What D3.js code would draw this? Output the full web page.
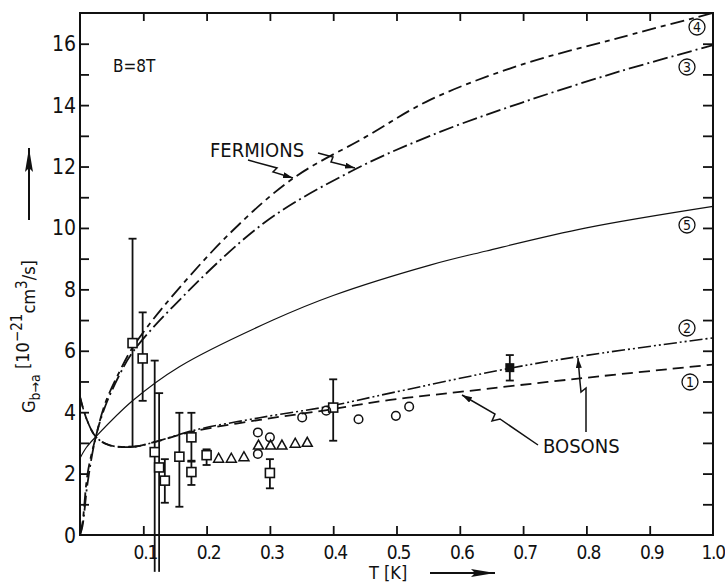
<!DOCTYPE html>
<html>
<head>
<meta charset="utf-8">
<script src="https://d3js.org/d3.v7.min.js"></script>
<style>
  body { margin: 0; background: #fff; }
  svg text { font-family: "DejaVu Sans Condensed", "DejaVu Sans", sans-serif; fill: #111; }
</style>
</head>
<body>
<div id="chart"></div>
<script>
// theory curves (T in K, G in 1e-21 cm3/s)
var c4T = [0, 0.004, 0.012, 0.025, 0.04, 0.062, 0.083, 0.132, 0.237, 0.337, 0.45, 0.553, 0.695, 0.853, 1.0];
var c4G = [0, 0.4, 2.0, 3.2, 4.3, 5.3, 6.1, 7.44, 9.83, 11.62, 12.95, 14.17, 15.3, 16.2, 17.0];
var c3T = [0, 0.004, 0.012, 0.025, 0.04, 0.062, 0.083, 0.147, 0.29, 0.427, 0.553, 0.695, 0.853, 1.0];
var c3G = [0, 0.3, 1.7, 3.2, 4.2, 5.2, 5.95, 7.44, 10.15, 11.83, 13.0, 14.06, 15.1, 15.95];
var c5T = [0, 0.01, 0.025, 0.083, 0.157, 0.305, 0.4, 0.553, 0.642, 0.8, 1.0];
var c5G = [2.5, 2.85, 3.2, 4.37, 5.48, 7.0, 7.8, 8.79, 9.25, 10.0, 10.7];
var c2T = [0, 0.01, 0.025, 0.046, 0.083, 0.12, 0.178, 0.284, 0.39, 0.49, 0.679, 0.8, 1.0];
var c2G = [4.5, 3.8, 3.2, 2.93, 2.87, 3.04, 3.4, 3.82, 4.18, 4.62, 5.43, 5.85, 6.42];
var c1T = [0, 0.01, 0.025, 0.046, 0.083, 0.12, 0.178, 0.284, 0.39, 0.49, 0.6, 0.79, 1.0];
var c1G = [4.5, 3.8, 3.2, 2.93, 2.87, 3.04, 3.37, 3.75, 4.07, 4.4, 4.66, 5.1, 5.55];

// measured points with error bars: T, G, low, high
var sqT  = [0.083, 0.099, 0.118, 0.125, 0.134, 0.157, 0.176, 0.176, 0.2, 0.3, 0.4];
var sqG  = [6.25, 5.75, 2.7, 2.2, 1.77, 2.55, 3.18, 2.05, 2.6, 2.02, 4.15];
var sqLo = [2.88, 4.37, -1.2, -1.2, 1.05, 0.92, 2.42, 1.63, 2.28, 1.52, 3.07];
var sqHi = [9.65, 7.25, 5.68, 4.62, 2.47, 3.98, 3.98, 2.39, 2.79, 2.47, 5.07];
var fillT = [0.679], fillG = [5.45], fillLo = [5.03], fillHi = [5.86];
var triT = [0.219, 0.239, 0.259, 0.282, 0.301, 0.319, 0.34, 0.359];
var triG = [2.5, 2.5, 2.55, 2.93, 2.93, 2.93, 2.99, 3.02];
var cirT = [0.281, 0.281, 0.3, 0.351, 0.389, 0.44, 0.499, 0.52];
var cirG = [3.34, 2.64, 3.18, 3.83, 4.05, 3.77, 3.88, 4.18];

var xTicks = [0.1, 0.2, 0.3, 0.4, 0.5, 0.6, 0.7, 0.8, 0.9, 1.0];
var xLabels = ["0.1", "0.2", "0.3", "0.4", "0.5", "0.6", "0.7", "0.8", "0.9", "1.0"];
var yLabels = [0, 2, 4, 6, 8, 10, 12, 14, 16];

var W = 725, H = 583;
var svg = d3.select("#chart").append("svg").attr("width", W).attr("height", H);
var x = d3.scaleLinear().domain([0, 1]).range([80, 713]);
var y = d3.scaleLinear().domain([0, 17]).range([535, 13]);

// arrow markers
var defs = svg.append("defs");
defs.append("marker").attr("id", "arr").attr("viewBox", "0 0 10 6")
  .attr("refX", 10).attr("refY", 3).attr("markerWidth", 10).attr("markerHeight", 6)
  .attr("markerUnits", "userSpaceOnUse").attr("orient", "auto")
  .append("path").attr("d", "M0,0 L10,3 L0,6 Z").attr("fill", "#111");
defs.append("marker").attr("id", "big").attr("viewBox", "0 0 24 8")
  .attr("refX", 24).attr("refY", 4).attr("markerWidth", 24).attr("markerHeight", 8)
  .attr("markerUnits", "userSpaceOnUse").attr("orient", "auto")
  .append("path").attr("d", "M0,0 L24,4 L0,8 L4,4 Z").attr("fill", "#111");

// frame
svg.append("rect").attr("x", x(0)).attr("y", y(17)).attr("width", x(1) - x(0)).attr("height", y(0) - y(17))
  .attr("fill", "none").attr("stroke", "#111").attr("stroke-width", 2);

// ticks: all inward
var yAll = d3.range(1, 17);
var axLeft = d3.axisLeft(y).tickValues(yAll).tickSize(-9).tickFormat("");
var axRight = d3.axisRight(y).tickValues(yAll).tickSize(-10).tickFormat("");
var axTop = d3.axisTop(x).tickValues(xTicks.slice(0, 9)).tickSize(-8).tickFormat("");
var axBottom = d3.axisBottom(x).tickValues(xTicks.slice(0, 9)).tickSize(-9).tickFormat("");
[[axLeft, "translate(" + x(0) + ",0)"], [axRight, "translate(" + x(1) + ",0)"],
 [axTop, "translate(0," + y(17) + ")"], [axBottom, "translate(0," + y(0) + ")"]].forEach(function (a) {
  var g = svg.append("g").attr("transform", a[1]).call(a[0]);
  g.select(".domain").remove();
  g.selectAll("line").attr("stroke", "#111").attr("stroke-width", 1.8);
});

// tick labels
svg.selectAll(".ylab").data(yLabels).enter().append("text")
  .attr("x", 76).attr("y", function (d) { return y(d) + 7.5; })
  .attr("text-anchor", "end").attr("font-size", 21).text(function (d) { return d; });
svg.selectAll(".xlab").data(xTicks).enter().append("text")
  .attr("x", function (d, i) { return i === 9 ? 725 : x(d) + 2; }).attr("y", 559)
  .attr("text-anchor", function (d, i) { return i === 9 ? "end" : "middle"; })
  .attr("font-size", 19).attr("letter-spacing", -1.2)
  .text(function (d, i) { return xLabels[i]; });

// axis titles
svg.append("text").attr("x", 369).attr("y", 579).attr("font-size", 18).text("T [K]");
svg.append("line").attr("x1", 430).attr("x2", 495).attr("y1", 573).attr("y2", 573)
  .attr("stroke", "#111").attr("stroke-width", 2).attr("marker-end", "url(#big)");

var yt = svg.append("text").attr("transform", "translate(35,413) rotate(-90)").attr("font-size", 18);
yt.append("tspan").text("G");
yt.append("tspan").attr("dy", 5).attr("font-size", 14).text("b→a");
yt.append("tspan").attr("dy", -11).text(" [10");
yt.append("tspan").attr("dy", -7).attr("font-size", 15).text("−21");
yt.append("tspan").attr("dy", 13).text("cm");
yt.append("tspan").attr("dy", -8).attr("font-size", 15).text("3");
yt.append("tspan").attr("dy", 8).text("/s]");
svg.append("line").attr("x1", 29).attr("x2", 29).attr("y1", 220).attr("y2", 148)
  .attr("stroke", "#111").attr("stroke-width", 2).attr("marker-end", "url(#big)");

// curves
var line = d3.line().x(function (d) { return x(d[0]); }).y(function (d) { return y(d[1]); })
  .curve(d3.curveCatmullRom.alpha(0.5));
function curve(T, G, dash, w) {
  svg.append("path").attr("d", line(T.map(function (t, i) { return [t, G[i]]; })))
    .attr("fill", "none").attr("stroke", "#111").attr("stroke-width", w)
    .attr("stroke-dasharray", dash);
}
curve(c5T, c5G, null, 1.2);
curve(c4T, c4G, "14,5,5,5", 1.8);
curve(c3T, c3G, "15,4,2,4", 1.8);
curve(c1T, c1G, "11,6", 1.8);
curve(c2T, c2G, "13,3,2,3,2,3", 1.6);

// error bars
function errbars(T, lo, hi) {
  T.forEach(function (t, i) {
    var g = svg.append("g").attr("stroke", "#111").attr("stroke-width", 1.8);
    g.append("line").attr("x1", x(t)).attr("x2", x(t)).attr("y1", y(lo[i])).attr("y2", y(hi[i]));
    g.append("line").attr("x1", x(t) - 4).attr("x2", x(t) + 4).attr("y1", y(hi[i])).attr("y2", y(hi[i]));
    if (lo[i] > 0) g.append("line").attr("x1", x(t) - 4).attr("x2", x(t) + 4).attr("y1", y(lo[i])).attr("y2", y(lo[i]));
  });
}
errbars(sqT, sqLo, sqHi);
errbars(fillT, fillLo, fillHi);

svg.selectAll(".sq").data(sqT).enter().append("rect")
  .attr("x", function (d) { return x(d) - 4.5; }).attr("y", function (d, i) { return y(sqG[i]) - 4.5; })
  .attr("width", 9).attr("height", 9).attr("fill", "#fff").attr("stroke", "#111").attr("stroke-width", 1.6);
svg.selectAll(".fsq").data(fillT).enter().append("rect")
  .attr("x", function (d) { return x(d) - 4.5; }).attr("y", function (d, i) { return y(fillG[i]) - 4.5; })
  .attr("width", 9).attr("height", 9).attr("fill", "#111");
svg.selectAll(".tri").data(triT).enter().append("path")
  .attr("d", function (d, i) { var cx = x(d), cy = y(triG[i]); return "M" + (cx - 5) + "," + (cy + 4) + "L" + (cx + 5) + "," + (cy + 4) + "L" + cx + "," + (cy - 5) + "Z"; })
  .attr("fill", "none").attr("stroke", "#111").attr("stroke-width", 1.5);
svg.selectAll(".cir").data(cirT).enter().append("circle")
  .attr("cx", function (d) { return x(d); }).attr("cy", function (d, i) { return y(cirG[i]); })
  .attr("r", 4.3).attr("fill", "none").attr("stroke", "#111").attr("stroke-width", 1.5);

// annotations
svg.append("text").attr("x", 113).attr("y", 72).attr("font-size", 17).text("B=8T");
svg.append("text").attr("x", 210).attr("y", 157).attr("font-size", 20).text("FERMIONS");
svg.append("text").attr("x", 543).attr("y", 453).attr("font-size", 20).text("BOSONS");
function leader(pts) {
  svg.append("path").attr("d", d3.line()(pts)).attr("fill", "none").attr("stroke", "#111")
    .attr("stroke-width", 1.5).attr("marker-end", "url(#arr)");
}
leader([[248, 160], [277, 168], [273, 172], [293, 178]]);
leader([[318, 153], [333, 157], [331, 162], [355, 168]]);
leader([[538, 445], [500, 419], [492, 421], [495, 414], [462, 395]]);
leader([[586, 432], [586, 388], [581, 392], [580, 382], [578, 358]]);

var circLab = [["4", 697, 27], ["3", 687, 67], ["5", 687, 225], ["2", 687, 328], ["1", 690, 382]];
circLab.forEach(function (c) {
  svg.append("circle").attr("cx", c[1]).attr("cy", c[2]).attr("r", 8).attr("fill", "#fff")
    .attr("stroke", "#111").attr("stroke-width", 1.3);
  svg.append("text").attr("x", c[1]).attr("y", c[2] + 5).attr("text-anchor", "middle")
    .attr("font-size", 14).text(c[0]);
});
</script>
</body>
</html>
